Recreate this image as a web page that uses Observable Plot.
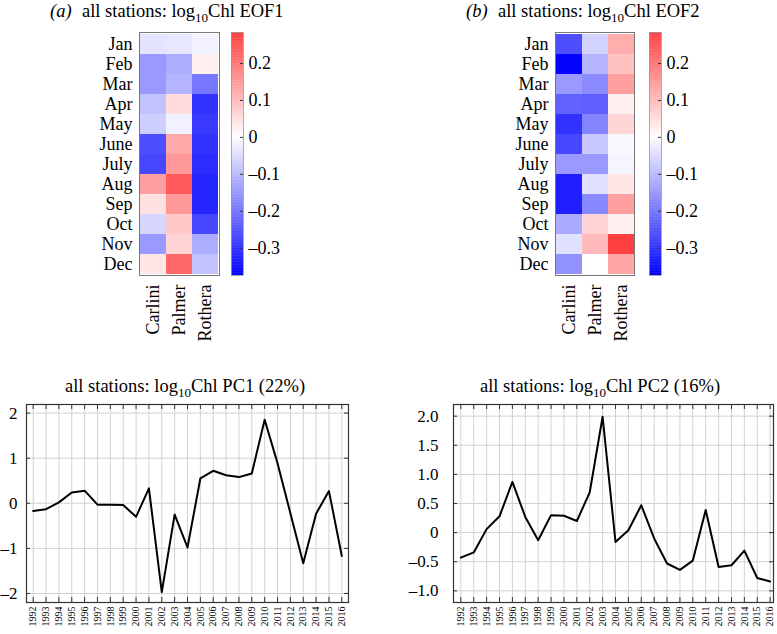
<!DOCTYPE html>
<html>
<head>
<meta charset="utf-8">
<script src="https://cdn.jsdelivr.net/npm/d3@7"></script>
<script src="https://cdn.jsdelivr.net/npm/@observablehq/plot@0.6"></script>
<style>
  html, body { margin: 0; padding: 0; background: #fff; }
  #root { position: relative; width: 777px; height: 634px; background: #fff; overflow: hidden;
          font-family: 'Liberation Serif', 'DejaVu Serif', serif; color: #000; }
  .panel { position: absolute; }
  .panel svg { max-width: none !important; overflow: visible; }
  .panel svg, .panel svg text { font-family: 'Liberation Serif', 'DejaVu Serif', serif !important; }
  .title { position: absolute; font-size: 18.5px; line-height: 18.5px; white-space: nowrap; }
  .title sub { font-size: 13px; vertical-align: -5px; line-height: 0; }
  .title .tag { display: inline-block; width: 32px; font-style: italic; }
</style>
</head>
<body>
<div id="root"></div>
<script>
// ---------- data ----------
const months = ["Jan", "Feb", "Mar", "Apr", "May", "June", "July", "Aug", "Sep", "Oct", "Nov", "Dec"];
const stations = ["Carlini", "Palmer", "Rothera"];

const eof1Carlini = [-0.04, -0.15, -0.15, -0.09, -0.07, -0.26, -0.27, 0.14, 0.045, -0.06, -0.15, 0.035];
const eof1Palmer  = [-0.035, -0.12, -0.11, 0.05, -0.02, 0.125, 0.15, 0.24, 0.15, 0.08, 0.065, 0.22];
const eof1Rothera = [-0.02, 0.02, -0.20, -0.30, -0.29, -0.30, -0.31, -0.32, -0.32, -0.27, -0.12, -0.09];

const eof2Carlini = [-0.26, -0.37, -0.15, -0.23, -0.30, -0.27, -0.15, -0.33, -0.33, -0.125, -0.045, -0.16];
const eof2Palmer  = [-0.065, -0.11, -0.17, -0.235, -0.18, -0.08, -0.15, -0.045, -0.175, 0.065, 0.10, 0.0];
const eof2Rothera = [0.12, 0.09, 0.14, 0.02, 0.06, -0.01, -0.015, 0.035, 0.14, 0.02, 0.28, 0.13];

const years = [1992, 1993, 1994, 1995, 1996, 1997, 1998, 1999, 2000, 2001, 2002, 2003, 2004,
               2005, 2006, 2007, 2008, 2009, 2010, 2011, 2012, 2013, 2014, 2015, 2016];
const pc1 = [-0.17, -0.13, 0.02, 0.24, 0.28, -0.03, -0.03, -0.04, -0.30, 0.33, -1.97, -0.25, -0.98,
             0.55, 0.72, 0.62, 0.58, 0.66, 1.85, 0.89, -0.22, -1.33, -0.23, 0.27, -1.17];
const pc2 = [-0.43, -0.34, 0.06, 0.28, 0.87, 0.27, -0.13, 0.30, 0.29, 0.20, 0.69, 1.99, -0.16,
             0.04, 0.47, -0.10, -0.53, -0.64, -0.48, 0.39, -0.59, -0.56, -0.31, -0.78, -0.84];

const colorbarTicks = [-0.3, -0.2, -0.1, 0, 0.1, 0.2];
const pc1Ticks = [-2, -1, 0, 1, 2];
const pc2Ticks = [-1.0, -0.5, 0, 0.5, 1.0, 1.5, 2.0];

// ---------- helpers ----------
const root = document.getElementById("root");
const FONT = "'Liberation Serif', 'DejaVu Serif', serif";
const dash = s => s.replace("-", "\u2013").replace("\u2212", "\u2013");

function place(node, left, top) {
  const d = document.createElement("div");
  d.className = "panel";
  d.style.left = left + "px";
  d.style.top = top + "px";
  d.appendChild(node);
  root.appendChild(d);
}
function title(html, left, top, width) {
  const d = document.createElement("div");
  d.className = "title";
  d.style.left = left + "px";
  d.style.top = top + "px";
  if (width) { d.style.width = width + "px"; d.style.textAlign = "center"; }
  d.innerHTML = html;
  root.appendChild(d);
}

const CMAX = 0.374;
const colorScale = {type: "linear", domain: [-CMAX, 0, CMAX], range: ["#0000ff", "#ffffff", "#ff0000"], interpolate: "rgb"};
const style = {fontFamily: FONT, fontSize: "16px", background: "transparent", overflow: "visible"};

function tableOf(cols) {
  const rows = [];
  stations.forEach((s, j) => months.forEach((m, i) => rows.push({station: s, month: m, value: cols[j][i]})));
  return rows;
}

function heatmap(cols, marginLeft, frameW) {
  return Plot.plot({
    width: marginLeft + frameW + 1, height: 340,
    marginLeft, marginRight: 1, marginTop: 32, marginBottom: 65,
    style,
    x: {domain: stations, padding: 0, label: null},
    y: {domain: months, padding: 0, label: null},
    color: colorScale,
    marks: [
      Plot.cell(tableOf(cols), {x: "station", y: "month", fill: "value", inset: 0}),
      Plot.frame({stroke: "#777", strokeWidth: 1}),
      Plot.axisY({tickSize: 0, tickPadding: 7, fontSize: 18, label: null, fontFamily: FONT}),
      Plot.axisX({tickSize: 0, tickPadding: 9, tickRotate: -90, fontSize: 18, label: null, fontFamily: FONT})
    ]
  });
}

function colorbar(marginLeft) {
  const lo = -0.374, hi = 0.284, step = 0.002;
  const steps = d3.range(lo, hi, step);
  const fw = 12;
  return Plot.plot({
    width: marginLeft + fw + 50, height: 340,
    marginLeft, marginRight: 50, marginTop: 32, marginBottom: 65,
    style,
    x: {domain: [0, 1], axis: null},
    y: {domain: [lo, hi], axis: null},
    color: colorScale,
    marks: [
      Plot.rect(steps, {x1: 0, x2: 1, y1: d => d, y2: d => d + step * 1.6, fill: d => d, clip: true}),
      Plot.frame({stroke: "#999", strokeWidth: 0.8}),
      Plot.tickY(colorbarTicks, {y: d => d, insetLeft: fw - 3, stroke: "#333"}),
      Plot.axisY({anchor: "right", ticks: colorbarTicks, tickSize: 0, tickPadding: 5, fontSize: 18, label: null, fontFamily: FONT,
                  tickFormat: d => d === 0 ? "0" : dash(d3.format(".1f")(d))})
    ]
  });
}

function lineChart(values, yTicks, yDomain, xDomain, marginLeft, width, frameW, yPad, fmt) {
  const H = 274, mt = 44, mb = 32, mr = width - marginLeft - frameW;
  const fh = H - mt - mb;
  const data = years.map((y, i) => ({year: y, value: values[i]}));
  return Plot.plot({
    width, height: H,
    marginLeft, marginRight: mr, marginTop: mt, marginBottom: mb,
    style,
    x: {domain: xDomain, label: null},
    y: {domain: yDomain, label: null},
    marks: [
      Plot.ruleX(years, {x: d => d, stroke: "#d2d2d2", strokeWidth: 1}),
      Plot.ruleY(yTicks, {y: d => d, stroke: "#d2d2d2", strokeWidth: 1}),
      Plot.tickX(years, {x: d => d, insetBottom: fh - 5, stroke: "#333"}),
      Plot.tickX(years, {x: d => d, insetTop: fh - 5, stroke: "#333"}),
      Plot.tickY(yTicks, {y: d => d, insetRight: frameW - 4, stroke: "#333"}),
      Plot.tickY(yTicks, {y: d => d, insetLeft: frameW - 4, stroke: "#333"}),
      Plot.line(data, {x: "year", y: "value", stroke: "#000", strokeWidth: 2}),
      Plot.frame({stroke: "#333", strokeWidth: 1.2}),
      Plot.axisX({ticks: years, tickFormat: d => String(d), tickSize: 0, tickPadding: 4, tickRotate: -90, fontSize: 10, label: null, fontFamily: FONT}),
      Plot.axisY({ticks: yTicks, tickFormat: fmt, tickSize: 0, tickPadding: yPad, fontSize: 17, label: null, fontFamily: FONT})
    ]
  });
}

// ---------- top row: EOF heatmaps ----------
title("<span class='tag'>(a)</span>all stations: log<sub>10</sub>Chl EOF1", 50, 2);
title("<span class='tag'>(b)</span>all stations: log<sub>10</sub>Chl EOF2", 466, 2);

place(heatmap([eof1Carlini, eof1Palmer, eof1Rothera], 59, 80), 80, 0);
place(colorbar(6), 225, 0);
place(heatmap([eof2Carlini, eof2Palmer, eof2Rothera], 55, 79), 500, 0);
place(colorbar(9), 640, 0);

// ---------- bottom row: PC time series ----------
title("all stations: log<sub>10</sub>Chl PC1 (22%)", 25, 377, 320);
title("all stations: log<sub>10</sub>Chl PC2 (16%)", 440, 377, 320);

place(lineChart(pc1, pc1Ticks, [-2.2, 2.19], [1991.48, 2016.52], 26, 350, 322, 9,
                d => dash(String(d))), 0, 360);
place(lineChart(pc2, pc2Ticks, [-1.2, 2.2], [1991.43, 2016.26], 63, 387, 320, 15,
                d => d === 0 ? "0" : dash(d3.format(".1f")(d))), 390, 360);
</script>
</body>
</html>
